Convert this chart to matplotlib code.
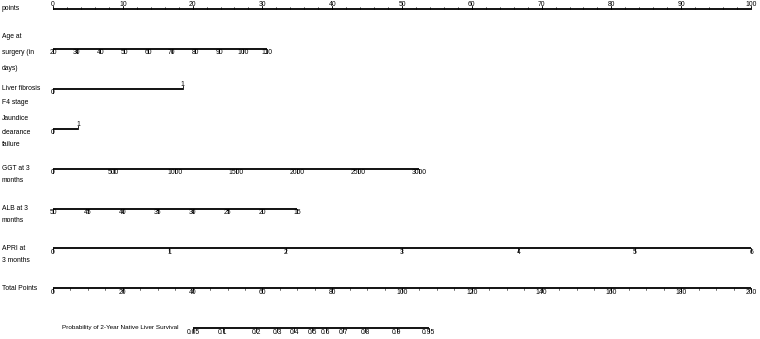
import matplotlib.pyplot as plt

plt.rcParams['font.family'] = ['Liberation Sans', 'DejaVu Sans']

# nomogram scales: tick labels and the points (0-100) each one sits on
points_ticks = [0, 10, 20, 30, 40, 50, 60, 70, 80, 90, 100]
points_minor = [v for v in range(0, 101, 2)]

age_labels = ['20', '30', '40', '50', '60', '70', '80', '90', '100', '110']
age_pts = [0, 3.4, 6.8, 10.2, 13.6, 17.0, 20.4, 23.8, 27.2, 30.6]

fib_labels = ['0', '1']
fib_pts = [0, 18.6]

jaun_labels = ['0', '1']
jaun_pts = [0, 3.6]

ggt_labels = ['0', '500', '1000', '1500', '2000', '2500', '3000']
ggt_pts = [0, 8.7, 17.5, 26.2, 35.0, 43.7, 52.4]

alb_labels = ['50', '45', '40', '35', '30', '25', '20', '15']
alb_pts = [0, 5.0, 10.0, 15.0, 20.0, 25.0, 30.0, 35.0]

apri_labels = ['0', '1', '2', '3', '4', '5', '6']
apri_pts = [0, 16.67, 33.33, 50.0, 66.67, 83.33, 100.0]

total_ticks = [0, 20, 40, 60, 80, 100, 120, 140, 160, 180, 200]
total_minor = [v for v in range(0, 201, 5)]

prob_labels = ['0.05', '0.1', '0.2', '0.3', '0.4', '0.5', '0.6', '0.7', '0.8', '0.9', '0.95']
prob_total = [40.1, 48.7, 58.2, 64.2, 69.1, 74.2, 78.2, 83.1, 89.4, 98.5, 107.7]

FS = 4.9
LW = 1.3
PX = 6.98  # pixels per point on the top scale
LEFT = -51 / PX

fig = plt.figure(figsize=(7.6, 3.39), dpi=100)
ax = fig.add_axes([0, 0, 1, 1])
ax.set_xlim(-53 / PX, 707 / PX)
ax.set_ylim(339, 0)
ax.axis('off')


def scale(y, xs, labels, up=None, minor=None, label_above=False):
    ax.plot([xs[0], xs[-1]], [y, y], color='black', lw=LW, solid_capstyle='butt')
    for i, (x, lab) in enumerate(zip(xs, labels)):
        go_up = label_above or (up is not None and up[i])
        if go_up:
            ax.plot([x, x], [y, y - 3.5], color='black', lw=0.6)
            ax.text(x, y - 4, lab, fontsize=FS, ha='center', va='center')
        else:
            ax.plot([x, x], [y, y + 3.5], color='black', lw=0.6)
            ax.text(x, y + 4, lab, fontsize=FS, ha='center', va='center')
    if minor is not None:
        d = -2 if label_above else 2
        for x in minor:
            ax.plot([x, x], [y, y + d], color='black', lw=0.4)


def name(lines):
    for y, s in lines:
        ax.text(LEFT, y, s, fontsize=FS, ha='left', va='center')


name([(8, 'points')])
scale(9, points_ticks, [str(v) for v in points_ticks], minor=points_minor, label_above=True)

name([(37, 'Age at'), (53, 'surgery (in'), (69, 'days)')])
scale(49, age_pts, age_labels)

name([(89, 'Liver fibrosis'), (102, 'F4 stage')])
scale(89, fib_pts, fib_labels, up=[False, True])

name([(119, 'Jaundice'), (132, 'clearance'), (144, 'failure')])
scale(129, jaun_pts, jaun_labels, up=[False, True])

name([(168, 'GGT at 3'), (180, 'months')])
scale(169, ggt_pts, ggt_labels)

name([(208, 'ALB at 3'), (221, 'months')])
scale(209, alb_pts, alb_labels)

name([(248, 'APRI at'), (260, '3 months')])
scale(248, apri_pts, apri_labels)

name([(288, 'Total Points')])
scale(288, [t / 2 for t in total_ticks], [str(v) for v in total_ticks],
      minor=[t / 2 for t in total_minor])

ax.text((178 - 53) / PX, 328, 'Probability of 2-Year Native Liver Survival',
        fontsize=4.6, ha='right', va='center')
scale(328, [t / 2 for t in prob_total], prob_labels)

fig.savefig('out.png', dpi=100)
